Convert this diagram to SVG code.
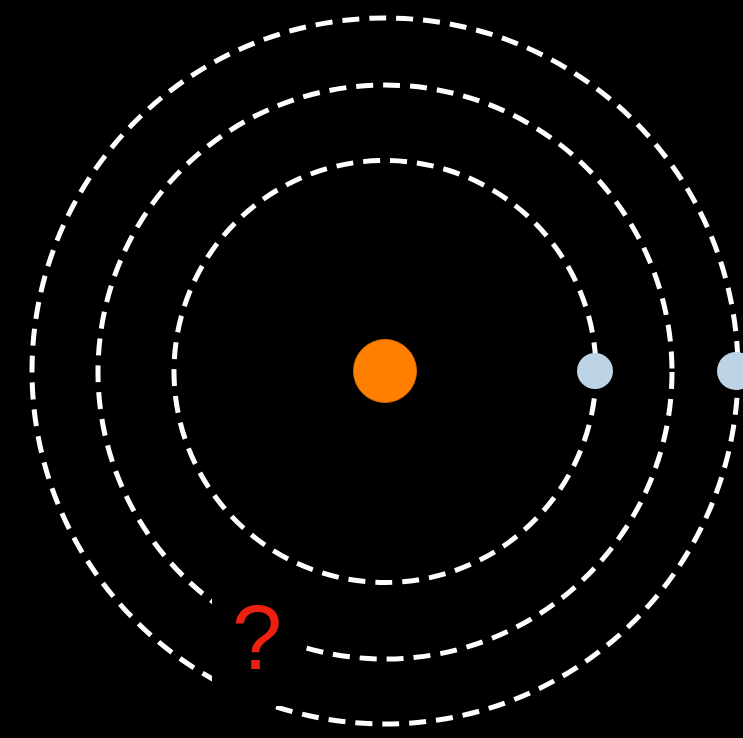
<svg xmlns="http://www.w3.org/2000/svg" width="743" height="738" viewBox="0 0 743 738">
<style>
.orbit{fill:none;stroke:#ffffff;stroke-width:5;stroke-dasharray:17 10}
.planet{fill:#bcd4e6}
</style>
<rect x="0" y="0" width="743" height="738" fill="#000000"/>
<g id="orbits">
<circle id="orbit-inner" class="orbit" cx="385" cy="371.5" r="211"/>
<circle id="orbit-middle" class="orbit" cx="385" cy="372" r="287"/>
<circle id="orbit-outer" class="orbit" cx="385" cy="371" r="353"/>
</g>
<g id="sun"><circle cx="385" cy="371" r="31.5" fill="#ff8000" stroke="#e07000" stroke-width="1"/></g>
<g id="planet-inner"><circle class="planet" cx="595" cy="371" r="18"/></g>
<g id="planet-outer"><circle class="planet" cx="736" cy="371" r="19"/></g>
<g id="unknown">
<rect x="212" y="592" width="88" height="114" fill="#000000"/>
<text x="257" y="669" font-family="Liberation Sans, Arial, sans-serif" font-size="90" fill="#ee2010" text-anchor="middle">?</text>
</g>
</svg>
